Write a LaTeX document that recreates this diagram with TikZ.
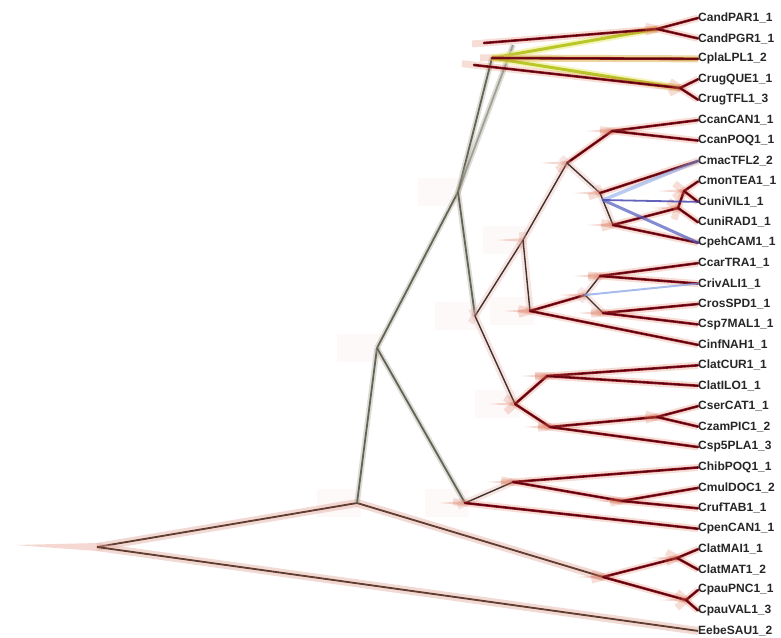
\documentclass[tikz,border=0pt]{standalone}
\usepackage{fontspec}
\setmainfont{Liberation Sans}
\usetikzlibrary{calc}

\definecolor{leafred}{RGB}{85,0,20}
\definecolor{midred}{RGB}{140,20,25}
\definecolor{halored}{RGB}{215,100,70}
\definecolor{stemgray}{RGB}{100,100,85}
\definecolor{halogray}{RGB}{170,168,155}
\definecolor{corebrown}{RGB}{65,50,45}
\definecolor{halopink}{RGB}{225,170,160}
\definecolor{rootbrown}{RGB}{110,50,30}
\definecolor{altgreen}{RGB}{185,200,40}
\definecolor{altyellow}{RGB}{235,235,120}
\definecolor{altblue}{RGB}{60,60,170}
\definecolor{skyblue}{RGB}{130,160,230}

\tikzset{
  tip/.style={anchor=west, inner sep=0pt, font=\bfseries\fontsize{12}{13}\selectfont, text=black!85},
  leaf/.style={draw=midred, line width=2.6pt, line cap=round,
    preaction={draw=halored, line width=7pt, opacity=.22, shorten <=-12pt},
    postaction={draw=leafred, line width=1pt}},
  inner/.style={draw=corebrown, line width=1.4pt,
    preaction={draw=halopink, line width=7pt, opacity=.3, shorten <=-8pt}},
  stem/.style={draw=stemgray, line width=1.8pt,
    preaction={draw=halogray, line width=5.5pt, opacity=.4}},
  rootbr/.style={draw=rootbrown, line width=1.8pt,
    preaction={draw=halopink, line width=8pt, opacity=.45},
    postaction={draw=black!70, line width=.6pt}},
  altline/.style={line width=2.5pt, opacity=.8, line cap=round},
  greenline/.style={draw=altgreen, line width=3pt, line cap=round,
    preaction={draw=altyellow, line width=7pt, opacity=.5}},
  spike/.style={fill=halored, opacity=.25},
  glow/.style={fill=halopink, opacity=.07}
}

\begin{document}
\begin{tikzpicture}[x=1pt, y=-1pt]
  \useasboundingbox (0,0) rectangle (781,637);

  % tips
  \foreach \nm/\sfx [count=\i] in {CandPAR/1\_1, CandPGR/1\_1, CplaLPL/1\_2, CrugQUE/1\_1, CrugTFL/1\_3,
      CcanCAN/1\_1, CcanPOQ/1\_1, CmacTFL/2\_2, CmonTEA/1\_1, CuniVIL/1\_1, CuniRAD/1\_1, CpehCAM/1\_1,
      CcarTRA/1\_1, CrivALI/1\_1, CrosSPD/1\_1, Csp7MAL/1\_1, CinfNAH/1\_1, ClatCUR/1\_1, ClatILO/1\_1,
      CserCAT/1\_1, CzamPIC/1\_2, Csp5PLA/1\_3, ChibPOQ/1\_1, CmulDOC/1\_2, CrufTAB/1\_1, CpenCAN/1\_1,
      ClatMAI/1\_1, ClatMAT/1\_2, CpauPNC/1\_1, CpauVAL/1\_3, EebeSAU/1\_2}
    \node[tip] (\nm) at (698,{18+(\i-1)*20.43}) {\nm\sfx};

  % internal nodes
  \coordinate (root) at (97,547);
  \coordinate (nA) at (357,503);
  \coordinate (nLP) at (603,577);
  \coordinate (nLat) at (677,558);
  \coordinate (nPau) at (686,600);
  \coordinate (nB) at (377,348);
  \coordinate (nD) at (465,503);
  \coordinate (nD1) at (513,482);
  \coordinate (nMul) at (622,501);
  \coordinate (nC) at (458,192);
  \coordinate (nTop) at (492,58);
  \coordinate (nTopA) at (484,43);
  \coordinate (nTopB) at (474,65);
  \coordinate (nTopC) at (513,45);
  \coordinate (nAnd) at (657,29);
  \coordinate (nRug) at (680,88);
  \coordinate (nF) at (475,316);
  \coordinate (nG) at (523,240);
  \coordinate (nH) at (567,163);
  \coordinate (nCan) at (612,131);
  \coordinate (nMac) at (600,193);
  \coordinate (nCu) at (613,225);
  \coordinate (nMon) at (678,208);
  \coordinate (nVil) at (684,191);
  \coordinate (nBl) at (603,200);
  \coordinate (nE) at (530,311);
  \coordinate (nX) at (585,295);
  \coordinate (nCar) at (600,276);
  \coordinate (nRos) at (603,313);
  \coordinate (nK) at (515,404);
  \coordinate (nCur) at (547,376);
  \coordinate (nSer) at (550,427);
  \coordinate (nCz) at (657,417);

  % glow and spikes at the nodes
  \foreach \n in {nA,nB,nC,nD,nF,nG,nK,nE}
    \fill[glow] ($(\n)+(-40,-14)$) rectangle ($(\n)+(4,14)$);
  \fill[spike] ($(root)+(0,-4)$) -- (15,545) -- ($(root)+(0,4)$) -- cycle;
  \foreach \n in {nLat,nPau,nLP,nMul,nD1,nD,nCz,nSer,nCur,nK,nCar,nRos,nX,nE,nVil,nMon,nCu,nMac,nCan,nH,nG,nAnd,nRug}
    \fill[spike] ($(\n)+(0,-2)$) -- ++(-26,2) -- ++(26,2) -- cycle;

  % backbone
  \draw[rootbr] (root) -- (nA);
  \draw[rootbr] (root) -- (EebeSAU.west);
  \draw[rootbr] (nA) -- (nLP);
  \draw[stem] (nA) -- (nB);
  \draw[stem] (nB) -- (nC);
  \draw[stem] (nB) -- (nD);
  \draw[stem] (nC) -- (nTop);
  \draw[stem, opacity=.5] (nC) -- (nTopC);
  \draw[stem] (nC) -- (nF);

  % top clade, green alternative first
  \draw[greenline] (nTop) -- (nAnd);
  \draw[greenline] (nTop) -- (CplaLPL.west);
  \draw[greenline] (nTop) -- (nRug);
  \draw[leaf] (nTopA) -- (nAnd);
  \draw[leaf] (nTop) -- (CplaLPL.west);
  \draw[leaf] (nTopB) -- (nRug);
  \draw[leaf] (nAnd) -- (CandPAR.west);
  \draw[leaf] (nAnd) -- (CandPGR.west);
  \draw[leaf] (nRug) -- (CrugQUE.west);
  \draw[leaf] (nRug) -- (CrugTFL.west);

  % middle clade
  \draw[inner] (nF) -- (nG);
  \draw[inner] (nF) -- (nK);
  \draw[inner] (nG) -- (nH);
  \draw[inner] (nG) -- (nE);
  \draw[leaf] (nH) -- (nCan);
  \draw[leaf] (nCan) -- (CcanCAN.west);
  \draw[leaf] (nCan) -- (CcanPOQ.west);
  \draw[inner] (nH) -- (nMac);
  \draw[inner] (nMac) -- (nCu);
  \draw[leaf] (nMac) -- (CmacTFL.west);
  \draw[leaf] (nCu) -- (nMon);
  \draw[leaf] (nCu) -- (CpehCAM.west);
  \draw[leaf] (nMon) -- (nVil);
  \draw[leaf] (nMon) -- (CuniRAD.west);
  \draw[leaf] (nVil) -- (CmonTEA.west);
  \draw[leaf] (nVil) -- (CuniVIL.west);
  \draw[altline, skyblue, line width=3.5pt, opacity=.55] (nBl) -- (CmacTFL.west);
  \draw[altline, altblue, line width=1.8pt] (nBl) -- (CuniVIL.west);
  \draw[altline, altblue!70!skyblue, line width=3pt, opacity=.7] (nBl) -- (CpehCAM.west);

  \draw[leaf] (nE) -- (nX);
  \draw[leaf] (nE) -- (CinfNAH.west);
  \draw[inner] (nX) -- (nCar);
  \draw[inner] (nX) -- (nRos);
  \draw[leaf] (nCar) -- (CcarTRA.west);
  \draw[leaf] (nCar) -- (CrivALI.west);
  \draw[altline, skyblue, line width=2pt, opacity=.7] (nX) -- (CrivALI.west);
  \draw[leaf] (nRos) -- (CrosSPD.west);
  \draw[leaf] (nRos) -- (Csp7MAL.west);

  \draw[leaf] (nK) -- (nCur);
  \draw[leaf] (nK) -- (nSer);
  \draw[leaf] (nCur) -- (ClatCUR.west);
  \draw[leaf] (nCur) -- (ClatILO.west);
  \draw[leaf] (nSer) -- (nCz);
  \draw[leaf] (nSer) -- (Csp5PLA.west);
  \draw[leaf] (nCz) -- (CserCAT.west);
  \draw[leaf] (nCz) -- (CzamPIC.west);

  % lower clades
  \draw[inner] (nD) -- (nD1);
  \draw[leaf] (nD1) -- (ChibPOQ.west);
  \draw[leaf] (nD1) -- (nMul);
  \draw[leaf] (nMul) -- (CmulDOC.west);
  \draw[leaf] (nMul) -- (CrufTAB.west);
  \draw[leaf] (nD) -- (CpenCAN.west);
  \draw[leaf] (nLP) -- (nLat);
  \draw[leaf] (nLP) -- (nPau);
  \draw[leaf] (nLat) -- (ClatMAI.west);
  \draw[leaf] (nLat) -- (ClatMAT.west);
  \draw[leaf] (nPau) -- (CpauPNC.west);
  \draw[leaf] (nPau) -- (CpauVAL.west);
\end{tikzpicture}
\end{document}
